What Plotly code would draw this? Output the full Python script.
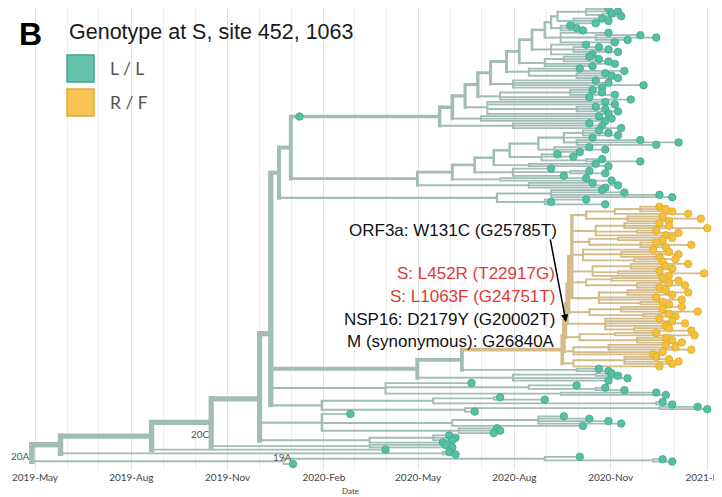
import plotly.graph_objects as go
import pandas as pd
import numpy as np

# ---------------- DATA (dates as months after 2019-05-01) ----------------
# Upper teal clade (ladder rising to the upper right)
U_TOP = [16.4, [17.3, 18.0, 18.3, [17.8, 18.1, 18.4]], [16.9, 17.8, 18.0, 17.6]]
U_S8 = [16.5, 16.8, 17.0, 17.2]
U_S7 = [16.5, 18.0, [17.6, 19.0, 19.5, 18.6], 18.2]
U_S6 = [16.2, 17.3, [16.9, 17.7, 18.0, 18.3], 17.5]
U_S5 = [16.0, [16.6, 17.4, 17.7, 18.0], 18.2, 17.5]
U_S4 = [15.5, 17.1, 18.5, [17.0, 17.9, 18.1, 18.3]]
U_S3 = [15.0, 17.6, 18.0, 19.1, 17.8]
U_S2 = [14.6, [16.8, 17.5, 17.8, 18.2], 17.4, 18.7]
U_S1 = [14.2, 17.9, 18.2, [17.0, 17.6, 17.9, 18.3], 18.0]
U_S0 = [14.0, 17.7, 18.1, 17.9]
U_SM = [15.0, 17.4, 17.8, 18.4]
CLADE_U = [12.7, [13.1, [13.5, [13.9, [14.3, [14.8, [15.2, [15.6, [16.0,
           [16.2, U_TOP, U_S8], U_S7], U_S6], U_S5], U_S4], U_S3], U_S2], U_S1], U_S0], U_SM]

# Lower teal clade
L_TOP = [16.6, [17.2, 17.7, 18.0, 18.3], 17.5, [17.0, 19.0, 20.2, 19.5]]
L_S5 = [16.3, 17.4, 17.9, 17.1]
L_S4 = [15.9, 16.4, 16.9, [17.3, 17.8, 19.0]]
L_S3 = [15.5, 17.6, 18.0]
L_S2 = [15.0, 16.2, [16.8, 17.4, 17.9], 16.6]
L_S1 = [14.6, 17.3, 18.1]
L_S0 = [15.5, 17.5, 18.3, 17.9]
CLADE_L = [12.0, [13.1, [13.8, [14.4, [14.9, [15.8, L_TOP, L_S5], L_S4], L_S3], L_S2], L_S1], L_S0]

CLADE_C3 = [14.5, [16.2, 17.8, 18.5, 19.6, 20.0], [16.0, 17.3, 16.2, 17.9]]

# R/F (tan) clade
T_A = [17.3, [18.2, [19.0, 19.6, 19.8, 20.0], 20.5], [18.6, 19.7, 20.9, 19.9]]
T_B = [17.6, [18.5, 19.6, 19.9, 21.1], [18.9, 19.5, 20.2], 19.8]
T_C = [17.4, [18.3, 20.0, 19.7], [19.0, 19.5, 20.6, 19.8]]
T_D = [17.2, 19.4, [18.4, 19.9, 20.2, 19.6], [18.8, 20.1, 19.7]]
T_E = [17.5, [18.7, 20.5, 19.8, 20.0], [18.3, 19.6, 21.0], 19.9]
T_F = [17.3, [18.1, 19.7, 20.2], [18.9, 19.9, 20.4, 19.6]]
T_G = [17.7, [18.6, 19.8, 20.5, 20.0], 19.5, 20.3, [19.0, 19.7, 19.9]]
T_H = [17.4, [18.4, 20.3, 19.7, 20.8], [19.1, 19.9, 20.1]]
T_I = [17.9, 19.6, 20.0, 20.4, 19.8, [18.8, 19.9, 20.6]]
T_J = [17.1, [18.2, 19.5, 20.7], [18.9, 19.8, 20.0, 20.3]]
T_BOT1 = [16.9, [18.0, 19.8, 20.1, 20.6], 19.7, 19.4]
T_BOT2 = [16.9, [18.5, 19.5, 19.9, 20.2, 20.0], 19.6]
CLADE_TAN = [16.55, [16.6, [16.65, [16.7, [16.75, [16.85, T_A, T_B, T_C, T_D, T_E, T_F, T_G],
                                         T_H], T_I], T_J], T_BOT1], T_BOT2]

# Remaining teal lineages
G367 = [17.0, 17.7, 18.0]
G373 = [15.0, [17.6, 18.1, 18.3], 18.6, 18.0]
H378 = [11.0, 13.7, [15.5, 17.0, [17.6, 17.9, 18.5]], [16.5, 19.5, 19.8]]
H396 = [9.0, [12.5, [14.4, 14.6, 16.0], [19.5, 19.7, 20.0]], [13.5, [19.6, 20.8, 21.1], 13.8]]
C423 = [9.0, 9.9, [13.1, [15.8, 16.6, 17.4, 18.0, 18.4], 17.2], [13.3, 14.5, 14.6, 14.4]]
C447 = [10.5, [12.5, 13.0, 13.2, 13.1], 12.8]
L212 = [10.5, 12.9, 13.1]
L60 = [12.8, 13.0, 13.2]
BOTTOM = [7.8, [16.0, 17.1, [19.4, 19.7, 20.0]], 8.1]

N463 = [13.4, CLADE_TAN, G367]
H365 = [12.0, N463, G373]
N292 = [8.03, CLADE_U, CLADE_L]
N280 = [7.66, N292, CLADE_C3]
N272 = [7.4, N280, H365, H378, H396]
N262 = [7.05, N272, C423, C447]
N212 = [5.53, N262, L212]
N152 = [3.66, N212, 11.0]
N60 = [0.8, N152, L60]
ROOT = [-0.1, N60, BOTTOM]

# samples sitting on a stem (clade, date)
STEM_SAMPLES = [(CLADE_U, 8.3)]

ANNOT_BLACK1 = "ORF3a: W131C (G25785T)"
ANNOT_RED = ["S: L452R (T22917G)", "S: L1063F (G24751T)"]
ANNOT_BLACK2 = ["NSP16: D2179Y (G20002T)", "M (synonymous): G26840A"]
CLADE_LABELS = ["20A", "20C", "19A"]
LEGEND = ["L / L", "R / F"]

# ---------------- colours ----------------
BR_TEAL = "#a1bdb5"
BR_TAN = "#d3bb8a"
DOT_TEAL = "#55c0a4"
DOT_TEAL_LINE = "#3fa78b"
DOT_YEL = "#f4c23a"
DOT_YEL_LINE = "#dfa925"

# ---------------- layout computation ----------------
rows = []
registry = {}


def build(node, color, parent_m=None):
    if isinstance(node, list):
        col = "tan" if node is CLADE_TAN else color
        kids = [build(k, col, node[0]) for k in node[1:]]
        y = float(np.mean([k["y"] for k in kids]))
        n = sum(k["n"] for k in kids)
        d = dict(m=node[0], y=y, n=n, kids=kids, color=col, tip=False, pm=parent_m)
        registry[id(node)] = d
        return d
    r = len(rows)
    rows.append(r)
    return dict(m=node, y=float(r), n=1, kids=[], color=color, tip=True, pm=parent_m)


tree = build(ROOT, "teal")
NROWS = len(rows)

BASE = pd.Timestamp("2019-05-01")


def to_date(m):
    return (BASE + pd.to_timedelta(m * 30.4375, unit="D")).strftime("%Y-%m-%d %H:%M:%S")


# page geometry: the page body adds an 8 px offset, so the figure is drawn 8 px smaller
OFF = 8
W, H = 722 - OFF, 497 - OFF
L_M, R_M, T_M, B_M = 0, 0, 0, 27
PLOT_TOP, PLOT_BOT = T_M, H - B_M          # in figure pixels

TOP_TIP_WIN, BOT_TIP_WIN = 9, 464           # window pixel rows of first / last tip
PX_PER_ROW = (BOT_TIP_WIN - TOP_TIP_WIN) / (NROWS - 1)
row_top = -((TOP_TIP_WIN - OFF) - PLOT_TOP) / PX_PER_ROW
row_bot = (PLOT_BOT - (TOP_TIP_WIN - OFF)) / PX_PER_ROW

PX_PER_DAY = 672 / 642
X0_WIN = 35                                  # window x of 2019-05-01
x_left = BASE - pd.Timedelta(days=(X0_WIN - OFF - L_M) / PX_PER_DAY)
x_right = BASE + pd.Timedelta(days=(W - R_M - (X0_WIN - OFF)) / PX_PER_DAY)


def px(xw):
    return (xw - OFF - L_M) / (W - L_M - R_M)


def py(yw):
    return (PLOT_BOT - (yw - OFF)) / (PLOT_BOT - PLOT_TOP)


def width(n):
    return 1.4 + 0.29 * np.sqrt(n)


segs = {}
tips = {"teal": ([], []), "tan": ([], [])}


def walk(nd):
    w = round(width(nd["n"]) * 4) / 4
    key = (nd["color"], w)
    segs.setdefault(key, ([], []))
    xs, ys = segs[key]
    if nd["pm"] is not None:
        xs += [to_date(nd["pm"]), to_date(nd["m"]), None]
        ys += [nd["y"], nd["y"], None]
    if nd["kids"]:
        ky = [k["y"] for k in nd["kids"]]
        ext = max(width(k["n"]) for k in nd["kids"]) / 2 / PX_PER_ROW
        xs += [to_date(nd["m"]), to_date(nd["m"]), None]
        ys += [min(ky) - ext, max(ky) + ext, None]
        for k in nd["kids"]:
            walk(k)
    else:
        tips[nd["color"]][0].append(to_date(nd["m"]))
        tips[nd["color"]][1].append(nd["y"])


walk(tree)
for clade, m in STEM_SAMPLES:
    nd = registry[id(clade)]
    tips[nd["color"]][0].append(to_date(m))
    tips[nd["color"]][1].append(nd["y"])

fig = go.Figure()
for colr in ["teal", "tan"]:
    for (c, w), (xs, ys) in sorted(segs.items(), key=lambda t: -t[0][1]):
        if c != colr or not xs:
            continue
        fig.add_trace(go.Scatter(x=xs, y=ys, mode="lines", cliponaxis=False,
                                 line=dict(color=BR_TEAL if c == "teal" else BR_TAN, width=w),
                                 hoverinfo="skip", showlegend=False))

fig.add_trace(go.Scatter(x=tips["teal"][0], y=tips["teal"][1], mode="markers", cliponaxis=False,
                         marker=dict(size=7.5, color=DOT_TEAL, line=dict(color=DOT_TEAL_LINE, width=0.8)),
                         hoverinfo="skip", showlegend=False))
fig.add_trace(go.Scatter(x=tips["tan"][0], y=tips["tan"][1], mode="markers", cliponaxis=False,
                         marker=dict(size=7.5, color=DOT_YEL, line=dict(color=DOT_YEL_LINE, width=0.8)),
                         hoverinfo="skip", showlegend=False))

fig.update_layout(
    width=W, height=H,
    margin=dict(l=L_M, r=R_M, t=T_M, b=B_M, autoexpand=False),
    paper_bgcolor="white", plot_bgcolor="white",
    xaxis=dict(type="date", range=[x_left, x_right], tick0="2019-05-01", dtick="M3",
               tickformat="%Y-%b", showgrid=True, gridcolor="#e2e2e2", gridwidth=1,
               minor=dict(dtick="M1", showgrid=True, gridcolor="#eeeeee", gridwidth=1),
               zeroline=False, showline=False, ticks="", ticklen=0,
               ticklabeloverflow="allow",
               tickfont=dict(family="Lato", size=10, color="#444")),
    yaxis=dict(range=[row_bot, row_top], visible=False, showgrid=False, zeroline=False),
    font=dict(family="Liberation Sans, Arial"),
)


def txt(x, y, text, size, color, family="Liberation Sans", xanchor="center"):
    return dict(x=px(x), y=py(y), xref="paper", yref="paper", text=text, showarrow=False,
                xanchor=xanchor, yanchor="middle", font=dict(family=family, size=size, color=color))


ann = [
    txt(350, 491, "Date", 8, "#444", "Lato"),
    txt(30, 34, "<b>B</b>", 32, "black"),
    txt(67, 32, "Genotype at S, site 452, 1063", 21.5, "#1a1a1a", xanchor="left"),
    txt(108, 68, LEGEND[0], 17.5, "#555", "Lato", "left"),
    txt(108, 102, LEGEND[1], 17.5, "#555", "Lato", "left"),
    txt(559, 230, ANNOT_BLACK1, 17, "#111", xanchor="right"),
]
for t, yy in zip(ANNOT_RED, [274, 296]):
    ann.append(txt(557, yy, t, 17, "#e03a36", xanchor="right"))
for t, yy in zip(ANNOT_BLACK2, [319, 341]):
    ann.append(txt(557, yy, t, 17, "#111", xanchor="right"))
ann.append(dict(x=px(566), y=py(322), xref="paper", yref="paper", text="", showarrow=True,
                ax=-16, ay=-84, arrowhead=2, arrowsize=1, arrowwidth=1.5, arrowcolor="black"))
for t, (xx, yy) in zip(CLADE_LABELS, [(20, 456), (200, 434), (282, 457)]):
    ann.append(txt(xx, yy, t, 10, "#555", "Lato"))

fig.update_layout(annotations=ann)

shapes = [
    dict(type="rect", xref="paper", yref="paper", x0=px(67), x1=px(94), y0=py(82), y1=py(55),
         fillcolor="#62c2aa", line=dict(color="#4aa58d", width=1.5)),
    dict(type="rect", xref="paper", yref="paper", x0=px(67), x1=px(94), y0=py(116), y1=py(89),
         fillcolor="#f5c451", line=dict(color="#e0ab35", width=1.5)),
]
fig.update_layout(shapes=shapes)

fig.write_html("out.html")
